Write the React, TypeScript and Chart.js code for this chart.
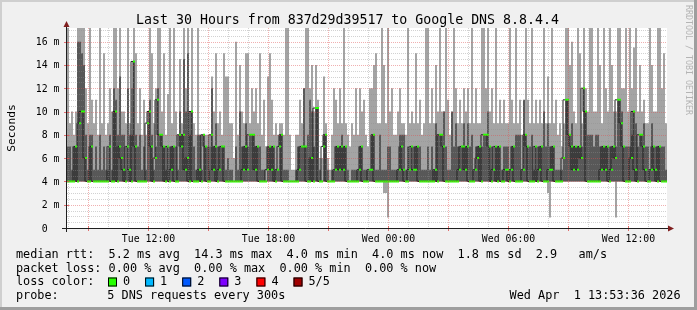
import React, { useEffect, useRef } from "react";
import { Chart, registerables } from "chart.js";

Chart.register(...registerables);

// ---- time axis (hours since Tue 00:00) ----
const startHour = 7.935;
const spanHours = 30;
const binHours = 0.1;

// ---- ping data per 6-minute bin (milliseconds) ----
const pingMin = [
  4, 4, 4, 4, 4, 4, 4, 4, 4, 4, 4, 4, 4, 4, 4, 4, 4, 4, 4, 4,
  4, 4, 4, 4, 4, 4, 4, 4, 4, 4, 4, 4, 4, 4, 4, 4, 4, 4, 4, 4,
  4, 4, 4, 4, 4, 4, 4, 4, 4, 4, 4, 4, 4, 4, 4, 4, 4, 4, 4, 4,
  4, 4, 4, 4, 4, 4, 4, 4, 4, 4, 4, 4, 4, 4, 4, 4, 4, 4, 4, 4,
  4, 4, 4, 4, 4, 4, 4, 4, 4, 4, 4, 4, 4, 4, 4, 4, 4, 4, 4, 4,
  4, 4, 4, 4, 4, 4, 4, 4, 4, 4, 4, 4, 4, 4, 4, 4, 4, 4, 4, 4,
  4, 4, 4, 4, 4, 4, 4, 4, 4, 4, 4, 4, 4, 4, 4, 4, 4, 4, 4, 4,
  4, 4, 4, 4, 4, 4, 4, 4, 4, 4, 4, 4, 4, 4, 4, 4, 4, 4, 3, 3,
  0.9, 4, 4, 4, 4, 4, 4, 4, 4, 4, 4, 4, 4, 4, 4, 4, 4, 4, 4, 4,
  4, 4, 4, 4, 4, 4, 4, 4, 4, 4, 4, 4, 4, 4, 4, 4, 4, 4, 4, 4,
  4, 4, 4, 4, 4, 4, 4, 4, 4, 4, 4, 4, 4, 4, 4, 4, 4, 4, 4, 4,
  4, 4, 4, 4, 4, 4, 4, 4, 4, 4, 4, 4, 4, 4, 4, 4, 4, 4, 4, 4,
  3, 0.9, 4, 4, 4, 4, 4, 4, 4, 4, 4, 4, 4, 4, 4, 4, 4, 4, 4, 4,
  4, 4, 4, 4, 4, 4, 4, 4, 4, 4, 4, 4, 4, 4, 0.9, 4, 4, 4, 4, 4,
  4, 4, 4, 4, 4, 4, 4, 4, 4, 4, 4, 4, 4, 4, 4, 4, 4, 4, 4, 4,
];
const pingLow = [
  4, 4, 4, 4, 4, 4, 4, 4, 4, 4, 4, 4, 4, 4, 4, 4, 4, 4, 4, 4,
  4, 4, 4, 4, 4, 4, 4, 4, 4, 4, 4, 4, 4, 4, 4, 4, 4, 4, 4, 4,
  4, 4, 4, 4, 4, 4, 4, 4, 4, 4, 4, 4, 4, 4, 4, 4, 4, 4, 4, 4,
  4, 4, 4, 4, 4, 4, 4, 4, 4, 4, 4, 4, 4, 4, 4, 4, 4, 4, 4, 4,
  4, 4, 4, 4, 4, 4, 4, 4, 4, 4, 4, 4, 4, 4, 4, 4, 4, 4, 4, 4,
  4, 4, 4, 4, 4, 4, 4, 4, 4, 4, 4, 4, 4, 4, 4, 4, 4, 4, 4, 4,
  4, 4, 4, 4, 4, 4, 4, 4, 4, 4, 4, 4, 4, 4, 4, 4, 4, 4, 4, 4,
  4, 4, 4, 4, 4, 4, 4, 4, 4, 4, 4, 4, 4, 4, 4, 4, 4, 4, 4, 4,
  4, 4, 4, 4, 4, 4, 4, 4, 4, 4, 4, 4, 4, 4, 4, 4, 4, 4, 4, 4,
  4, 4, 4, 4, 4, 4, 4, 4, 4, 4, 4, 4, 4, 4, 4, 4, 4, 4, 4, 4,
  4, 4, 4, 4, 4, 4, 4, 4, 4, 4, 4, 4, 4, 4, 4, 4, 4, 4, 4, 4,
  4, 4, 4, 4, 4, 4, 4, 4, 4, 4, 4, 4, 4, 4, 4, 4, 4, 4, 4, 4,
  4, 4, 4, 4, 4, 4, 4, 4, 4, 4, 4, 4, 4, 4, 4, 4, 4, 4, 4, 4,
  4, 4, 4, 4, 4, 4, 4, 4, 4, 4, 4, 4, 4, 4, 4, 4, 4, 4, 4, 4,
  4, 4, 4, 4, 4, 4, 4, 4, 4, 4, 4, 4, 4, 4, 4, 4, 4, 4, 4, 4,
];
const pingMedian = [
  4, 4, 4, 4, 7, 4, 9, 10, 10, 6, 4, 4, 7, 4, 4, 4, 4, 4, 4, 4,
  4, 7, 4, 4, 10, 4, 7, 6, 5, 4, 7, 5, 4, 14.3, 7, 4, 4, 4, 4, 4,
  9, 10, 7, 4, 6, 11, 8, 8, 7, 4, 7, 4, 5, 7, 4, 4, 8, 7, 8, 5,
  6, 4, 10, 4, 4, 4, 5, 4, 8, 7, 4, 4, 8, 5, 7, 4, 5, 7, 7, 4,
  4, 4, 4, 4, 4, 4, 4, 4, 5, 7, 5, 8, 8, 8, 5, 7, 4, 4, 4, 4,
  5, 7, 5, 7, 4, 5, 7, 8, 4, 4, 4, 4, 4, 4, 4, 4, 5, 7, 7, 7,
  4, 4, 6, 4, 10.3, 10.3, 4, 4, 7, 8, 4, 4, 4, 4, 5, 7, 5, 7, 5, 7,
  4, 4, 4, 4, 4, 4, 5, 7, 4, 4, 4, 5, 5, 8, 4, 4, 4, 4, 4, 4,
  4, 4, 4, 4, 4, 4, 5, 7, 5, 4, 4, 5, 7, 5, 5, 7, 4, 4, 4, 4,
  4, 4, 4, 4, 5, 4, 8, 8, 7, 4, 4, 4, 4, 4, 4, 4, 5, 7, 7, 5,
  7, 4, 4, 4, 5, 6, 7, 4, 8, 8, 8, 7, 4, 5, 7, 4, 7, 4, 4, 5,
  5, 4, 5, 7, 4, 4, 4, 4, 5, 8, 7, 4, 4, 4, 7, 4, 5, 7, 4, 4,
  4, 5, 5, 7, 4, 4, 4, 4, 6, 11, 11, 8, 7, 5, 7, 5, 7, 6, 12, 10,
  4, 4, 4, 4, 4, 4, 4, 5, 7, 5, 7, 4, 5, 7, 6, 11, 11, 9, 7, 4,
  4, 4, 6, 10, 5, 4, 8, 8, 7, 5, 4, 4, 5, 7, 5, 4, 7, 4, 4, 4,
];
const pingHigh = [
  7, 7, 5, 7, 7, 16, 16, 15, 14, 8, 5, 8, 8, 5, 7, 5, 8, 5, 7, 5,
  5, 8, 5, 12, 11, 8, 13, 8, 8, 5, 12, 8, 8, 14.3, 8, 7, 8, 5, 7, 5,
  9, 11, 8, 5, 7, 12, 8, 8, 7, 5, 7, 7, 7, 7, 7, 5, 10, 8, 14.5, 10,
  15, 8, 10, 7, 5, 8, 8, 5, 8, 7, 7, 5, 12, 7, 9, 7, 7, 7, 7, 5,
  6, 5, 5, 4, 7, 5, 10, 7, 7, 9, 7, 8, 8, 8, 7, 7, 7, 5, 5, 4,
  7, 7, 7, 7, 5, 5, 8, 8, 5, 5, 5, 4, 4, 4, 5, 7, 7, 7, 12, 7,
  8, 11, 10, 7, 10.3, 10.3, 5, 4, 8, 8, 5, 4, 5, 5, 7, 7, 7, 8, 7, 7,
  5, 4, 5, 5, 5, 5, 7, 7, 5, 5, 5, 5, 8, 8, 5, 5, 8, 5, 5, 5,
  7, 7, 5, 5, 5, 5, 8, 8, 8, 5, 7, 5, 7, 7, 7, 7, 7, 5, 5, 5,
  7, 5, 7, 5, 9, 8, 8, 8, 10, 7, 5, 5, 10, 7, 9, 7, 7, 7, 9, 7,
  9, 7, 8, 5, 7, 7, 7, 7, 8, 8, 10, 7, 7, 5, 7, 7, 7, 5, 7, 7,
  7, 5, 7, 7, 8, 8, 8, 5, 11, 8, 7, 7, 8, 5, 7, 7, 7, 7, 10, 7,
  9, 7, 7, 7, 5, 5, 5, 5, 6, 11, 11, 8, 9, 7, 7, 7, 7, 7, 12, 10,
  8, 8, 8, 7, 8, 8, 7, 7, 7, 7, 7, 7, 7, 7, 7, 11, 11, 10, 7, 7,
  7, 7, 8, 10, 9, 7, 8, 8, 9, 7, 7, 5, 9, 7, 7, 7, 7, 7, 7, 5,
];
const pingMax = [
  17.2, 9, 10, 8, 10, 17.2, 17.2, 17.2, 17.2, 12, 9, 17.2, 11, 9, 11, 8, 17.2, 9, 15, 8,
  9, 12, 10, 17.2, 17.2, 12, 17.2, 10, 10, 9, 17.2, 9, 12, 17.2, 15, 9, 12, 8, 11, 8,
  10, 17.2, 15, 9, 12, 17.2, 17.2, 10, 15, 8, 11.5, 17.2, 9, 17.2, 10, 8, 14.5, 9, 17.2, 12,
  17.2, 10, 17.2, 9, 8, 17.2, 8, 8, 8, 8, 8, 7, 13, 10, 15, 9, 10, 8, 15, 13,
  13, 9, 9, 6, 16, 8, 14, 10, 9, 15, 15, 9, 12, 10, 12, 9, 15, 8, 11, 7,
  13, 15, 11, 8, 9, 8, 9, 9, 8, 17.2, 17.2, 8, 5, 5, 8, 8, 11, 9, 12, 17.2,
  17.2, 12, 14, 10, 14, 11, 6, 6, 13, 9, 6, 5, 8, 12, 11, 9, 12, 9, 17.2, 9,
  8, 7, 9, 8, 12, 8, 12, 10, 11, 8, 7, 12, 12, 14, 15, 9, 9, 17.2, 14, 9,
  17.2, 10, 12, 8, 8, 10, 12, 9, 9, 8, 17.2, 9, 10, 9, 15, 9, 11, 8, 9, 17.2,
  17.2, 9, 12, 9, 14, 10, 17.2, 10, 10, 17.2, 11, 8, 9, 17.2, 12, 9, 11, 9, 12, 10,
  12, 9, 17.2, 9, 12, 9, 9, 17.2, 17.2, 12, 17.2, 10, 12, 9, 17.2, 9, 11, 9, 11, 9,
  9, 17.2, 11, 9, 17.2, 9, 11, 8, 9, 17.2, 11, 9, 17.2, 9, 11, 9, 11, 9, 17.2, 9,
  13, 9, 17.2, 9, 11, 8, 9, 7, 9, 17.2, 17.2, 14, 16, 10, 9, 17.2, 15, 9, 17.2, 12,
  10, 17.2, 17.2, 10, 10, 17.2, 14, 9, 17.2, 12, 10, 17.2, 14, 10, 10, 17.2, 17.2, 12, 12, 17.2,
  10, 17.2, 12, 15.5, 17.2, 10, 14, 10, 11, 9, 9, 17.2, 14, 10, 10, 17.2, 17.2, 12, 15, 9,
];

// ---- axis labels ----
const yTickValues = [0, 2, 4, 6, 8, 10, 12, 14, 16];
const yTickLabels = ["0  ", "2 m", "4 m", "6 m", "8 m", "10 m", "12 m", "14 m", "16 m"];
const xLabelHours = [12, 18, 24, 30, 36];
const xLabelTexts = ["Tue 12:00", "Tue 18:00", "Wed 00:00", "Wed 06:00", "Wed 12:00"];

// ---- legend ----
const titleText = "Last 30 Hours from 837d29d39517 to Google DNS 8.8.4.4";
const legendRtt = "median rtt:  5.2 ms avg  14.3 ms max  4.0 ms min  4.0 ms now  1.8 ms sd  2.9   am/s";
const legendLoss = "packet loss: 0.00 % avg  0.00 % max  0.00 % min  0.00 % now";
const lossLabels = ["0", "1", "2", "3", "4", "5/5"];
const lossColors = ["#26ff00", "#00b8ff", "#0059ff", "#7e00ff", "#ff0000", "#a10000"];
const probeText = "5 DNS requests every 300s";
const stampText = "Wed Apr  1 13:53:36 2026";

const W = 697;
const H = 310;
const MONO = "'DejaVu Sans Mono', monospace";

const binCenter = (i: number) => startHour + binHours * i + binHours / 2;
const binStart = (i: number) => startHour + binHours * i;

const rrdPlugin = {
  id: "rrdDecor",
  beforeDraw(chart: any) {
    const ctx = chart.ctx as CanvasRenderingContext2D;
    const { left, top, right, bottom } = chart.chartArea;
    ctx.save();
    ctx.fillStyle = "#f0f0f0";
    ctx.fillRect(0, 0, W, H);
    ctx.fillStyle = "#cfcfcf";
    ctx.fillRect(0, 0, W, 2);
    ctx.fillRect(0, 0, 2, H);
    ctx.fillStyle = "#9e9e9e";
    ctx.fillRect(0, H - 3, W, 3);
    ctx.fillRect(W - 3, 0, 3, H);
    ctx.fillStyle = "#ffffff";
    ctx.fillRect(left, top, right - left, bottom - top);
    ctx.restore();
  },
  afterDatasetsDraw(chart: any) {
    const ctx = chart.ctx as CanvasRenderingContext2D;
    const xs = chart.scales.x;
    const ys = chart.scales.y;
    const { left, top, right, bottom } = chart.chartArea;
    ctx.save();
    ctx.lineWidth = 1;
    ctx.setLineDash([1, 1]);
    // horizontal grid
    for (let k = 1; k * 0.5 <= ys.max; k++) {
      const v = k * 0.5;
      const y = Math.round(ys.getPixelForValue(v)) + 0.5;
      const major = v % 2 === 0;
      ctx.strokeStyle = major ? "rgba(222,79,79,0.45)" : "rgba(143,143,143,0.4)";
      ctx.beginPath();
      ctx.moveTo(left, y);
      ctx.lineTo(right, y);
      ctx.stroke();
    }
    // vertical grid
    for (let h = Math.ceil(xs.min); h <= xs.max; h++) {
      const x = Math.round(xs.getPixelForValue(h)) + 0.5;
      const major = h % 3 === 0;
      ctx.strokeStyle = major ? "rgba(222,79,79,0.45)" : "rgba(143,143,143,0.4)";
      ctx.beginPath();
      ctx.moveTo(x, top);
      ctx.lineTo(x, bottom);
      ctx.stroke();
    }
    ctx.setLineDash([]);
    // major ticks
    ctx.strokeStyle = "rgba(222,79,79,0.8)";
    for (let h = Math.ceil(xs.min); h <= xs.max; h++) {
      if (h % 3 !== 0) continue;
      const x = Math.round(xs.getPixelForValue(h)) + 0.5;
      ctx.beginPath();
      ctx.moveTo(x, bottom - 2);
      ctx.lineTo(x, bottom + 3);
      ctx.stroke();
    }
    for (const v of yTickValues) {
      if (v === 0) continue;
      const y = Math.round(ys.getPixelForValue(v)) + 0.5;
      ctx.beginPath();
      ctx.moveTo(left - 3, y);
      ctx.lineTo(left + 2, y);
      ctx.stroke();
    }
    // axes
    ctx.strokeStyle = "#1f1f1f";
    ctx.beginPath();
    ctx.moveTo(left - 5, bottom + 0.5);
    ctx.lineTo(right + 2, bottom + 0.5);
    ctx.moveTo(left - 0.5, bottom + 4);
    ctx.lineTo(left - 0.5, top - 2);
    ctx.stroke();
    ctx.fillStyle = "#801f1f";
    ctx.beginPath();
    ctx.moveTo(right + 1, bottom - 2.5);
    ctx.lineTo(right + 7, bottom + 0.5);
    ctx.lineTo(right + 1, bottom + 3.5);
    ctx.closePath();
    ctx.fill();
    ctx.beginPath();
    ctx.moveTo(left - 3.5, top - 1);
    ctx.lineTo(left - 0.5, top - 7);
    ctx.lineTo(left + 2.5, top - 1);
    ctx.closePath();
    ctx.fill();

    // y labels
    ctx.fillStyle = "#000000";
    ctx.font = `9.85px ${MONO}`;
    ctx.textAlign = "right";
    ctx.textBaseline = "alphabetic";
    yTickValues.forEach((v, i) => {
      const y = ys.getPixelForValue(v);
      ctx.fillText(yTickLabels[i], 59.5, y + 3.5);
    });
    // x labels
    ctx.textAlign = "center";
    xLabelHours.forEach((h, i) => {
      const x = Math.round(xs.getPixelForValue(h)) + 0.5;
      ctx.fillText(xLabelTexts[i], x, 241.7);
    });

    // title
    ctx.font = `13.26px ${MONO}`;
    ctx.textAlign = "center";
    ctx.fillText(titleText, 347.5, 24);

    // vertical unit label
    ctx.save();
    ctx.font = `11.25px ${MONO}`;
    ctx.translate(15, (top + bottom) / 2);
    ctx.rotate(-Math.PI / 2);
    ctx.textAlign = "center";
    ctx.fillText("Seconds", 0, 0);
    ctx.restore();

    // watermark
    ctx.save();
    ctx.font = `8.3px ${MONO}`;
    ctx.fillStyle = "#b4b4b4";
    ctx.translate(686, 5);
    ctx.rotate(Math.PI / 2);
    ctx.textAlign = "left";
    ctx.fillText("RRDTOOL / TOBI OETIKER", 0, 0);
    ctx.restore();

    // legend
    ctx.font = `11.84px ${MONO}`;
    ctx.textAlign = "left";
    ctx.fillStyle = "#000000";
    ctx.fillText(legendRtt, 16, 258.3);
    ctx.fillText(legendLoss, 16, 271.7);
    ctx.fillText("loss color:", 16, 285.1);
    lossLabels.forEach((lbl, i) => {
      const bx = 108 + i * 37.1;
      ctx.fillStyle = lossColors[i];
      ctx.fillRect(bx, 277.5, 9, 9);
      ctx.strokeStyle = "#000000";
      ctx.strokeRect(bx + 0.5, 277.5 + 0.5, 8, 8);
      ctx.fillStyle = "#000000";
      ctx.fillText(lbl, bx + 15, 285.1);
    });
    ctx.fillText("probe:", 16, 298.5);
    ctx.fillText(probeText, 107.3, 298.5);
    ctx.textAlign = "right";
    ctx.fillText(stampText, 680.5, 298.5);
    ctx.restore();
  },
};

export default function App() {
  const ref = useRef<HTMLCanvasElement | null>(null);
  useEffect(() => {
    if (!ref.current) return;
    const swidth = 17.17 / 200;
    const lightData = pingMax.map((v, i) => ({ x: binCenter(i), y: [pingMin[i], v] }));
    const darkData = pingHigh.map((v, i) => ({ x: binCenter(i), y: [pingLow[i], v] }));
    const greenData = pingMedian.map((v, i) => ({ x: binCenter(i), y: [v - swidth, v + swidth] }));
    const lineData = pingMedian.map((v, i) => ({ x: binStart(i), y: v }));
    lineData.push({ x: startHour + spanHours, y: pingMedian[pingMedian.length - 1] });

    const barBase = { type: "bar", borderWidth: 0, barThickness: 2, grouped: false, inflateAmount: 0 };
    const chart = new Chart(ref.current, {
      type: "bar",
      data: {
        datasets: [
          { ...barBase, data: lightData as any, backgroundColor: "#a4a4a4", order: 5 } as any,
          { ...barBase, data: darkData as any, backgroundColor: "#585858", order: 4 } as any,
          {
            type: "line",
            data: lineData as any,
            borderColor: "#202020",
            borderWidth: 1,
            pointRadius: 0,
            stepped: "after",
            fill: false,
            order: 2,
          } as any,
          { ...barBase, data: greenData as any, backgroundColor: lossColors[0], order: 1 } as any,
        ],
      },
      options: {
        animation: false,
        responsive: false,
        devicePixelRatio: 1,
        events: [],
        layout: { padding: { left: 67, right: 30, top: 28, bottom: 82 } },
        plugins: { legend: { display: false }, tooltip: { enabled: false } },
        scales: {
          x: { type: "linear", display: false, min: startHour, max: startHour + spanHours, offset: false },
          y: { display: false, min: 0, max: 17.17 },
        },
      },
      plugins: [rrdPlugin],
    });
    return () => chart.destroy();
  }, []);
  return (
    <div style={{ position: "absolute", left: 0, top: 0, width: W, height: H }}>
      <canvas ref={ref} width={W} height={H} style={{ display: "block" }} />
    </div>
  );
}
